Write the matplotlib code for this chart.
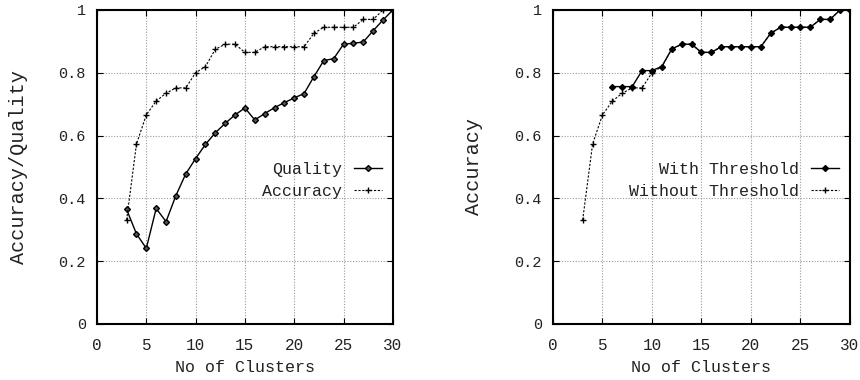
import matplotlib.pyplot as plt
import numpy as np

plt.rcParams['font.family'] = ['Liberation Mono', 'DejaVu Sans Mono']
plt.rcParams['font.size'] = 11
plt.rcParams['text.color'] = '#222222'
plt.rcParams['axes.labelcolor'] = '#222222'
plt.rcParams['xtick.labelcolor'] = '#222222'
plt.rcParams['ytick.labelcolor'] = '#222222'

clusters = np.arange(3, 31)
quality = [0.365, 0.287, 0.241, 0.368, 0.326, 0.409, 0.478, 0.527, 0.572, 0.609,
           0.639, 0.666, 0.688, 0.650, 0.670, 0.689, 0.705, 0.720, 0.734, 0.788,
           0.839, 0.845, 0.891, 0.894, 0.898, 0.934, 0.968, 1.0]
accuracy = [0.331, 0.573, 0.666, 0.710, 0.735, 0.752, 0.752, 0.800, 0.820, 0.875,
            0.891, 0.891, 0.865, 0.865, 0.883, 0.883, 0.883, 0.883, 0.883, 0.926,
            0.945, 0.945, 0.945, 0.945, 0.970, 0.970, 1.0, 1.0]

thr_clusters = np.arange(6, 31)
with_thr = [0.756, 0.756, 0.756, 0.807, 0.807, 0.820, 0.876, 0.891, 0.891, 0.865,
            0.865, 0.883, 0.883, 0.883, 0.883, 0.883, 0.926, 0.945, 0.945, 0.945,
            0.945, 0.970, 0.970, 1.0, 1.0]
without_thr = accuracy

fig = plt.figure(figsize=(8.6, 3.8), dpi=100)
ax1 = fig.add_axes([0.1128, 0.1474, 0.344, 0.8263])
ax2 = fig.add_axes([0.643, 0.1474, 0.3453, 0.8263])


def style(ax, ylabel, lpad):
    ax.set_xlim(0, 30)
    ax.set_ylim(0, 1)
    ax.set_xticks(range(0, 31, 5))
    ax.set_yticks([0, 0.2, 0.4, 0.6, 0.8, 1])
    ax.set_yticklabels(['0', '0.2', '0.4', '0.6', '0.8', '1'])
    ax.grid(True, linestyle=(0, (1, 1.5)), color='#999999', linewidth=0.8)
    ax.tick_params(direction='in', top=True, right=True, length=4)
    ax.tick_params(axis='x', pad=10, labelsize=11.5)
    ax.tick_params(axis='y', pad=8)
    for s in ax.spines.values():
        s.set_linewidth(1.5)
    ax.set_xlabel('No of Clusters', labelpad=5, fontsize=12)
    ax.set_ylabel(ylabel, labelpad=lpad, fontsize=14.5)


def legend(ax):
    ax.legend(loc='center right', bbox_to_anchor=(0.963, 0.457), frameon=False,
              markerfirst=False, handlelength=1.7, handletextpad=0.7,
              labelspacing=0.38, borderpad=0, borderaxespad=0, fontsize=12)


ax1.plot(clusters, quality, 'k-', marker='D', markersize=3, linewidth=1,
         markerfacecolor='#555555', label='Quality')
ax1.plot(clusters, accuracy, 'k--', marker='+', markersize=4, linewidth=0.8,
         dashes=(2, 1.5), label='Accuracy')
style(ax1, 'Accuracy/Quality', 22)
legend(ax1)

ax2.plot(thr_clusters, with_thr, 'k-', marker='D', markersize=3, linewidth=1,
         label='With Threshold')
ax2.plot(clusters, without_thr, 'k--', marker='+', markersize=4, linewidth=0.8,
         dashes=(2, 1.5), label='Without Threshold')
style(ax2, 'Accuracy', 23)
legend(ax2)

fig.savefig('out.png', dpi=100)
